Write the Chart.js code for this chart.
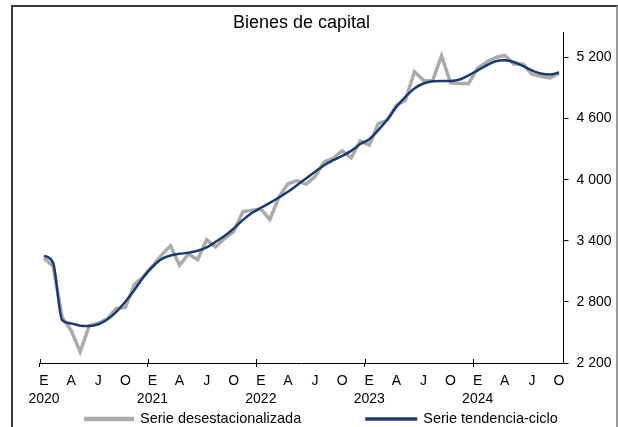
<!DOCTYPE html>
<html>
<head>
<meta charset="utf-8">
<script src="https://cdn.jsdelivr.net/npm/chart.js@4/dist/chart.umd.min.js"></script>
<style>
  body { margin: 0; background: #fff; }
  #wrap { position: relative; width: 618px; height: 427px; }
  #frame {
    position: absolute; left: 11px; top: 5px; width: 603px; height: 430px;
    border-left: 2px solid #3a3a3a; border-top: 2px solid #3a3a3a; border-right: 2px solid #9a9a9a;
    pointer-events: none;
  }
</style>
</head>
<body>
<div id="wrap">
  <canvas id="capitalChart" width="618" height="427"></canvas>
  <div id="frame"></div>
</div>
<script>
const TITLE = "Bienes de capital";
const YEARS = ["2020", "2021", "2022", "2023", "2024"];
const MONTH_INITIALS = ["E", "F", "M", "A", "M", "J", "J", "A", "S", "O", "N", "D"];
const SHOWN_MONTHS = ["E", "A", "J", "O"];
const LAST_MONTH_2024 = 10;
const Y_TICKS = [2200, 2800, 3400, 4000, 4600, 5200];

const desestacionalizada = [
  3230, 3150, 2650, 2520, 2310, 2565, 2590, 2635, 2735, 2745, 2970, 3050,
  3150, 3260, 3350, 3160, 3270, 3215, 3410, 3340, 3425, 3490, 3685, 3700,
  3710, 3610, 3830, 3960, 3990, 3955, 4030, 4175, 4210, 4285, 4215, 4380,
  4340, 4550, 4585, 4730, 4780, 5060, 4975, 4970, 5215, 4950, 4945, 4945,
  5095, 5155, 5200, 5220, 5135, 5135, 5035, 5015, 5000, 5045
];
const tendenciaCiclo = [
  3253, 3184, 2622, 2589, 2566, 2563, 2580, 2628, 2703, 2801, 2916, 3043,
  3145, 3220, 3256, 3272, 3282, 3302, 3335, 3390, 3449, 3521, 3603, 3672,
  3724, 3773, 3825, 3881, 3946, 4012, 4077, 4142, 4191, 4234, 4283, 4350,
  4397, 4486, 4590, 4715, 4813, 4895, 4944, 4966, 4970, 4970, 4983, 5025,
  5074, 5123, 5163, 5172, 5156, 5117, 5074, 5042, 5032, 5052
];

const FONT = "'Liberation Sans', Arial, sans-serif";
const GRAY = "#ababab";
const NAVY = "#1d3b68";

// one category per month, Jan 2020 .. Oct 2024
let labels = [];
YEARS.forEach((year, y) => {
  let months = y === YEARS.length - 1 ? LAST_MONTH_2024 : 12;
  for (let m = 0; m < months; m++) {
    labels.push(year + "-" + MONTH_INITIALS[m]);
  }
});

function formatThousands(v) {
  return String(v).replace(/\B(?=(\d{3})+(?!\d))/g, " ");
}

// year ticks cross the x axis line (up part drawn here)
const yearTicks = {
  id: "yearTicks",
  afterDraw(chart) {
    let x = chart.scales.x;
    let ctx = chart.ctx;
    ctx.save();
    ctx.strokeStyle = "#000";
    ctx.lineWidth = 1;
    for (let i = 0; i < labels.length; i += 12) {
      let px = Math.round(x.getPixelForValue(i - 0.5)) + 0.5;
      ctx.beginPath();
      ctx.moveTo(px, x.top - 4);
      ctx.lineTo(px, x.top);
      ctx.stroke();
    }
    ctx.restore();
  }
};

// legend below the axis
const bottomLegend = {
  id: "bottomLegend",
  afterDraw(chart) {
    let ctx = chart.ctx;
    let y = 419;
    let x = 84;
    ctx.save();
    ctx.font = "14.5px " + FONT;
    ctx.textBaseline = "middle";
    ctx.fillStyle = "#000";
    chart.data.datasets.forEach((ds, i) => {
      let w = i === 0 ? 50 : 52;
      ctx.strokeStyle = ds.borderColor;
      ctx.lineWidth = ds.borderWidth + 1;
      ctx.beginPath();
      ctx.moveTo(x, y);
      ctx.lineTo(x + w, y);
      ctx.stroke();
      ctx.fillText(ds.label, x + w + 6, y);
      x += w + 6 + ctx.measureText(ds.label).width + 64;
    });
    ctx.restore();
  }
};

new Chart(document.getElementById("capitalChart"), {
  type: "line",
  data: {
    labels: labels,
    datasets: [
      {
        label: "Serie desestacionalizada",
        data: desestacionalizada,
        borderColor: GRAY,
        borderWidth: 3.5,
        pointRadius: 0,
        tension: 0,
        order: 2
      },
      {
        label: "Serie tendencia-ciclo",
        data: tendenciaCiclo,
        borderColor: NAVY,
        borderWidth: 2.5,
        pointRadius: 0,
        cubicInterpolationMode: "monotone",
        order: 1
      }
    ]
  },
  options: {
    responsive: false,
    animation: false,
    layout: { padding: { left: 39.5, right: 0, top: 0, bottom: 20 } },
    plugins: {
      legend: { display: false },
      tooltip: { enabled: false },
      title: {
        display: true,
        text: TITLE,
        color: "#000",
        fullSize: false,
        font: { family: FONT, size: 18, weight: "normal", lineHeight: 1 },
        padding: { top: 14, bottom: 0 }
      }
    },
    scales: {
      x: {
        offset: true,
        grid: {
          display: true,
          offset: true,
          drawOnChartArea: false,
          tickLength: 4,
          tickColor: ctx => (ctx.index % 12 === 0 ? "#000" : "rgba(0,0,0,0)")
        },
        border: { display: true, color: "#000", width: 1 },
        ticks: {
          autoSkip: false,
          maxRotation: 0,
          minRotation: 0,
          padding: 5,
          color: "#000",
          font: { family: FONT, size: 14, lineHeight: 1.3 },
          callback: function (value, index) {
            let m = index % 12;
            let initial = MONTH_INITIALS[m];
            if (!SHOWN_MONTHS.includes(initial) || m % 3 !== 0) return "";
            if (m === 0) return [initial, YEARS[Math.floor(index / 12)]];
            return initial;
          }
        },
        afterFit: scale => { scale.height = 44; }
      },
      y: {
        position: "right",
        min: 2200,
        max: 5450,
        afterBuildTicks: scale => {
          scale.ticks = Y_TICKS.map(v => ({ value: v }));
        },
        grid: {
          display: true,
          drawOnChartArea: false,
          tickLength: 5,
          tickColor: "#000"
        },
        border: { display: true, color: "#000", width: 1 },
        ticks: {
          padding: 8,
          color: "#000",
          font: { family: FONT, size: 14 },
          callback: v => formatThousands(v)
        },
        afterFit: scale => { scale.width = 54.5; }
      }
    }
  },
  plugins: [yearTicks, bottomLegend]
});
</script>
</body>
</html>
